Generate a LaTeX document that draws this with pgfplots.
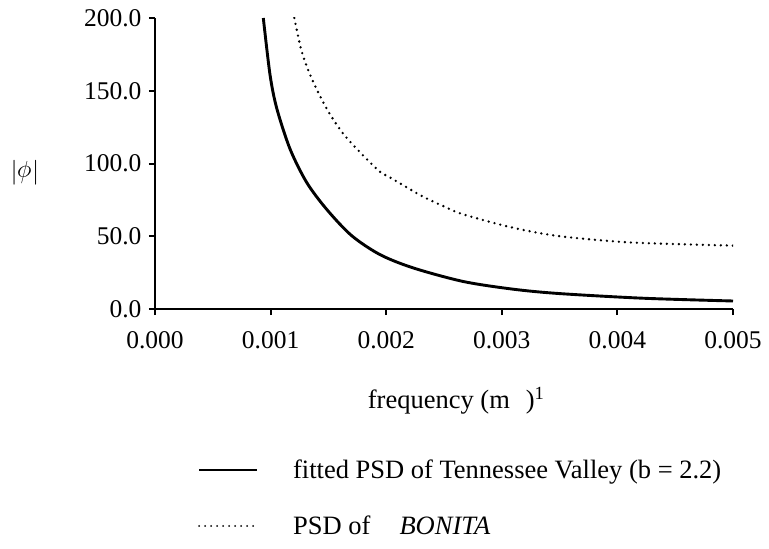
\documentclass[border=0pt]{standalone}
\usepackage{pgfplots}
\pgfplotsset{compat=1.18}
\usepackage{fontspec}
\setmainfont{Liberation Serif}
\begin{document}
\begin{tikzpicture}
\begin{axis}[
  name=ax,
  scale only axis,
  width=578pt, height=291pt,
  xmin=0, xmax=0.005, ymin=0, ymax=200,
  axis lines*=left,
  axis line style={line width=2.6pt},
  tick align=outside,
  major tick length=6pt,
  tick style={line width=2pt, black},
  xtick={0,0.001,0.002,0.003,0.004,0.005},
  ytick={0,50,100,150,200},
  scaled x ticks=false,
  x tick label style={/pgf/number format/fixed, /pgf/number format/fixed zerofill, /pgf/number format/precision=3, /pgf/number format/assume math mode=true, yshift=-13pt},
  y tick label style={/pgf/number format/fixed, /pgf/number format/fixed zerofill, /pgf/number format/precision=1, /pgf/number format/assume math mode=true, xshift=-4pt},
  ticklabel style={font=\fontsize{25.5}{30}\selectfont},
  xlabel={frequency (m\hspace{0.6em})\textsuperscript{1}},
  xlabel style={font=\fontsize{26.5}{30}\selectfont, at={(axis description cs:0.521,-0.315)}, anchor=center},
  ylabel={\rotatebox{90}{$|\phi|$}},
  ylabel style={font=\fontsize{24}{28}\selectfont, at={(axis description cs:-0.225,0.47)}, anchor=center, rotate=0},
  legend style={at={(axis description cs:0.069,-0.649)}, anchor=west, draw=none, fill=none,
    font=\fontsize{26.5}{30}\selectfont, row sep=32pt, column sep=33pt, nodes={inner sep=2pt}},
  legend cell align=left,
  legend image code/.code={\draw[#1, line width=2pt] (0pt,0pt) -- (58pt,0pt);},
  clip=true,
]
\addplot[black, line width=2.9pt, smooth, tension=0.5] coordinates {
(0.000937,200) (0.000995,161) (0.001053,138) (0.001168,110) (0.001312,87)
(0.001485,68.5) (0.0017,50.5) (0.001946,37.4) (0.002235,28.2) (0.002667,18.9)
(0.0031,13.6) (0.0035,10.6) (0.004224,7.4) (0.005,5.5)
};
\addlegendentry{fitted PSD of Tennessee Valley (b = 2.2)}
\addplot[black, line width=2.6pt, line cap=round, dash pattern=on 0pt off 6pt, smooth, tension=0.5] coordinates {
(0.001205,200) (0.001269,177) (0.001355,158.5) (0.001485,137.7) (0.001629,120.4)
(0.001802,105.4) (0.001946,94.3) (0.002033,90.4) (0.0023,78) (0.0025,70.5)
(0.002667,65) (0.0031,55.8) (0.003503,50) (0.00408,45.9) (0.004657,44.3) (0.005,43.6)
};
\addlegendentry{PSD of\hspace{1.1em}\textit{BONITA}}
\end{axis}
\path[use as bounding box] ([xshift=-155pt,yshift=-239pt]ax.south west) rectangle ([xshift=36pt,yshift=18pt]ax.north east);
\end{tikzpicture}
\end{document}
